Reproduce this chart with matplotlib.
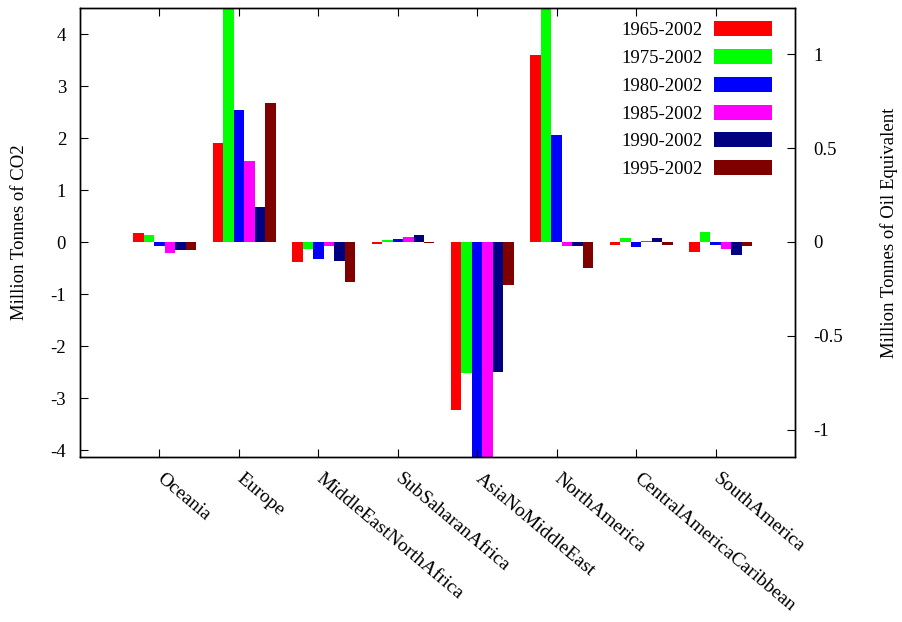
import numpy as np
import matplotlib
matplotlib.use('Agg')
import matplotlib.pyplot as plt
import matplotlib as mpl

mpl.rcParams['font.family'] = 'Liberation Serif'
mpl.rcParams['font.size'] = 13.5
mpl.rcParams['axes.unicode_minus'] = False
mpl.rcParams['axes.linewidth'] = 1.0

# data (Million Tonnes of CO2), one list per period
regions = ['Oceania', 'Europe', 'MiddleEastNorthAfrica', 'SubSaharanAfrica',
           'AsiaNoMiddleEast', 'NorthAmerica', 'CentralAmericaCaribbean', 'SouthAmerica']
periods = ['1965-2002', '1975-2002', '1980-2002', '1985-2002', '1990-2002', '1995-2002']
p1965 = [0.17, 1.91, -0.38, -0.03, -3.22, 3.59, -0.06, -0.19]
p1975 = [0.14, 6.00, -0.13, 0.05, -2.51, 6.00, 0.08, 0.20]
p1980 = [-0.08, 2.53, -0.32, 0.06, -5.00, 2.05, -0.10, -0.06]
p1985 = [-0.21, 1.56, -0.07, 0.09, -4.60, -0.07, 0.02, -0.14]
p1990 = [-0.16, 0.68, -0.36, 0.13, -2.50, -0.08, 0.08, -0.24]
p1995 = [-0.15, 2.67, -0.76, -0.02, -0.83, -0.49, -0.05, -0.08]
series = [p1965, p1975, p1980, p1985, p1990, p1995]
colors = ['#ff0000', '#00ff00', '#0000ff', '#ff00ff', '#000080', '#800000']

fig = plt.figure(figsize=(9.02, 6.22), dpi=100)
ax1 = fig.add_axes([80/902, 1 - 457/622, 715/902, 449/622])
ax2 = ax1.twinx()

x = np.arange(len(regions))
width = 0.132
for i, (vals, col, lab) in enumerate(zip(series, colors, periods)):
    ax1.bar(x + (i - 2) * width, vals, width, color=col, label=lab, linewidth=0)

ax1.set_xlim(-1, 8)
ax1.set_ylim(-4.13, 4.5)
ax1.set_yticks(range(-4, 5))
ax1.set_yticklabels([str(v) for v in range(-4, 5)])
ax1.set_xticks(x)
ax1.set_xticklabels(regions, rotation=-40, ha='left', va='center',
                    rotation_mode='anchor', fontsize=14)
ax1.tick_params(axis='x', direction='in', length=6, pad=14, top=True)
ax1.tick_params(axis='y', direction='in', length=6, pad=10)
ax1.set_ylabel('Million Tonnes of CO2', labelpad=16)

ax2.set_ylim(-1.144, 1.245)
ax2.set_yticks([-1, -0.5, 0, 0.5, 1])
ax2.set_yticklabels(['-1', '-0.5', '0', '0.5', '1'])
ax2.tick_params(axis='y', direction='in', length=6, pad=13)
ax2.set_ylabel('Million Tonnes of Oil Equivalent', labelpad=27)

leg = ax1.legend(loc='upper right', bbox_to_anchor=(0.968, 0.97), frameon=False,
                 markerfirst=False, handlelength=3.1, handleheight=0.85,
                 labelspacing=0.52, handletextpad=0.6, borderpad=0, borderaxespad=0)

fig.savefig('out.png', dpi=100)
